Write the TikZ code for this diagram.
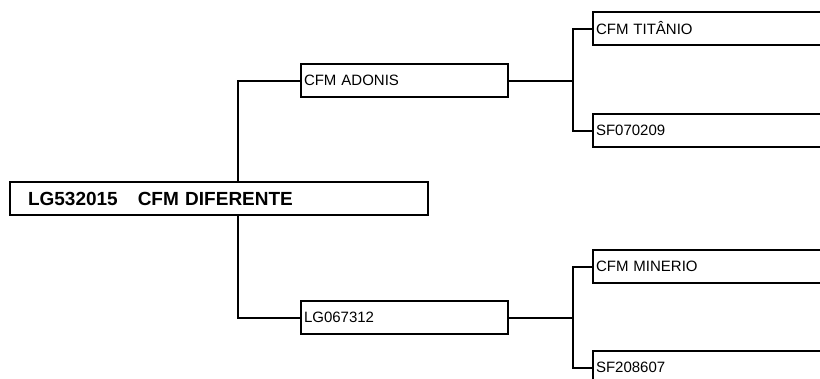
\documentclass[tikz,border=0pt]{standalone}
\usepackage{fontspec}
\setmainfont{Liberation Sans}

\begin{document}
\begin{tikzpicture}[x=1pt,y=-1pt,line width=2pt,
  top/.style={draw,rectangle,anchor=north west,minimum height=33pt,inner xsep=18pt,inner ysep=0pt,
    text width=382pt,align=left,font=\fontsize{19}{22}\selectfont\bfseries},
  item/.style={draw,rectangle,anchor=north west,minimum height=33pt,inner xsep=3pt,inner ysep=0pt,
    text width=#1,align=left,font=\fontsize{15}{18}\selectfont},
  item/.default=201pt]
\clip (0,0) rectangle (820,378);
\node[top] (root) at (9,181) {LG532015\hspace{20pt}CFM DIFERENTE};
\node[item] (adonis) at (300,63) {CFM ADONIS};
\node[item] (lg067) at (300,300) {LG067312};
\node[item=254pt] (titanio) at (592,11) {CFM TITÂNIO};
\node[item=254pt] (sf070) at (592,113) {SF070209};
\node[item=254pt] (minerio) at (592,249) {CFM MINERIO};
\node[item=254pt] (sf208) at (592,350) {SF208607};
\draw (adonis.west) -| ([xshift=19pt]root.north);
\draw (lg067.west) -| ([xshift=19pt]root.south);
\coordinate (ja) at ([xshift=64pt]adonis.east);
\coordinate (jb) at ([xshift=64pt]lg067.east);
\draw (adonis.east) -- (ja) |- (titanio.west);
\draw (ja) |- (sf070.west);
\draw (lg067.east) -- (jb) |- (minerio.west);
\draw (jb) |- (sf208.west);
\end{tikzpicture}
\end{document}
